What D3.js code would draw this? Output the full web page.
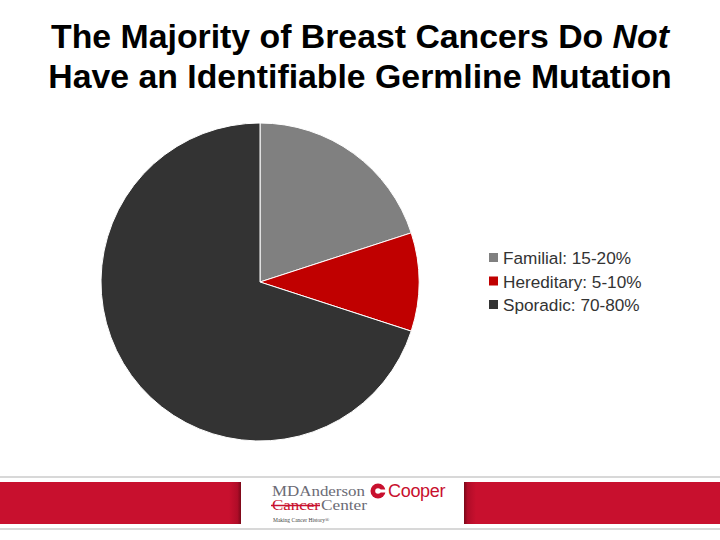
<!DOCTYPE html>
<html>
<head>
<meta charset="utf-8">
<script src="https://cdn.jsdelivr.net/npm/d3@7"></script>
<style>
  body { margin: 0; background: #fff; }
  svg { display: block; font-family: "Liberation Sans", Arial, sans-serif; }
</style>
</head>
<body>
<div id="chart"></div>
<script>
// Data
const categories = ["Familial", "Hereditary", "Sporadic"];
const values = [20, 10, 70];
const legendLabels = ["Familial: 15-20%", "Hereditary: 5-10%", "Sporadic: 70-80%"];
const colors = ["#808080", "#c00000", "#333333"];

const svgWidth = 720;
const svgHeight = 540;

const svg = d3.select("#chart")
  .append("svg")
  .attr("width", svgWidth)
  .attr("height", svgHeight);

// Title
const title = svg.append("text")
  .attr("x", 360)
  .attr("y", 48)
  .attr("text-anchor", "middle")
  .attr("font-size", 33.8)
  .attr("font-weight", "bold")
  .attr("fill", "#000");
title.append("tspan").text("The Majority of Breast Cancers Do ");
title.append("tspan").attr("font-style", "italic").text("Not");

svg.append("text")
  .attr("x", 360)
  .attr("y", 88)
  .attr("text-anchor", "middle")
  .attr("font-size", 33.8)
  .attr("font-weight", "bold")
  .attr("fill", "#000")
  .text("Have an Identifiable Germline Mutation");

// Pie
const radius = 159;
const pieGroup = svg.append("g")
  .attr("transform", "translate(260, 282)");

const pie = d3.pie().sort(null).value(d => d);
const arc = d3.arc().innerRadius(0).outerRadius(radius);

pieGroup.selectAll("path")
  .data(pie(values))
  .enter()
  .append("path")
  .attr("d", arc)
  .attr("fill", (d, i) => colors[i])
  .attr("stroke", "#fff")
  .attr("stroke-width", 1);

// Legend
const legend = svg.append("g")
  .attr("transform", "translate(489, 258)");

const items = legend.selectAll("g")
  .data(legendLabels)
  .enter()
  .append("g")
  .attr("transform", (d, i) => `translate(0, ${i * 23.5})`);

items.append("rect")
  .attr("x", 0)
  .attr("y", -5)
  .attr("width", 9)
  .attr("height", 9)
  .attr("fill", (d, i) => colors[i]);

items.append("text")
  .attr("x", 14)
  .attr("y", 6)
  .attr("font-size", 17.2)
  .attr("fill", "#333")
  .text(d => d);

// Footer band
svg.append("line")
  .attr("x1", 0).attr("x2", svgWidth)
  .attr("y1", 477).attr("y2", 477)
  .attr("stroke", "#d8d8d8").attr("stroke-width", 2);
svg.append("line")
  .attr("x1", 0).attr("x2", svgWidth)
  .attr("y1", 529).attr("y2", 529)
  .attr("stroke", "#d8d8d8").attr("stroke-width", 2);

const defs = svg.append("defs");
const gradL = defs.append("linearGradient").attr("id", "edgeL");
gradL.append("stop").attr("offset", "0%").attr("stop-color", "#c8102e");
gradL.append("stop").attr("offset", "70%").attr("stop-color", "#b00c28");
gradL.append("stop").attr("offset", "100%").attr("stop-color", "#7a0818");
const gradR = defs.append("linearGradient").attr("id", "edgeR");
gradR.append("stop").attr("offset", "0%").attr("stop-color", "#7a0818");
gradR.append("stop").attr("offset", "30%").attr("stop-color", "#b00c28");
gradR.append("stop").attr("offset", "100%").attr("stop-color", "#c8102e");

svg.append("rect")
  .attr("x", 0).attr("y", 482)
  .attr("width", 241).attr("height", 42)
  .attr("fill", "#c8102e");
svg.append("rect")
  .attr("x", 229).attr("y", 482)
  .attr("width", 12).attr("height", 42)
  .attr("fill", "url(#edgeL)");
svg.append("rect")
  .attr("x", 464).attr("y", 482)
  .attr("width", 256).attr("height", 42)
  .attr("fill", "#c8102e");
svg.append("rect")
  .attr("x", 464).attr("y", 482)
  .attr("width", 12).attr("height", 42)
  .attr("fill", "url(#edgeR)");

// Logo text
const logo = svg.append("g").attr("font-family", "'Liberation Serif', serif");
logo.append("text")
  .attr("x", 272).attr("y", 496)
  .attr("font-size", 14)
  .attr("fill", "#6b6b75")
  .attr("textLength", 93)
  .attr("lengthAdjust", "spacingAndGlyphs")
  .text("MDAnderson");
logo.append("text")
  .attr("x", 272).attr("y", 510)
  .attr("font-size", 14)
  .attr("fill", "#c8102e")
  .attr("textLength", 48)
  .attr("lengthAdjust", "spacingAndGlyphs")
  .text("Cancer");
logo.append("line")
  .attr("x1", 271).attr("x2", 320)
  .attr("y1", 505.5).attr("y2", 505.5)
  .attr("stroke", "#c8102e").attr("stroke-width", 1.3);
logo.append("text")
  .attr("x", 321).attr("y", 510)
  .attr("font-size", 14)
  .attr("fill", "#6b6b75")
  .attr("textLength", 46)
  .attr("lengthAdjust", "spacingAndGlyphs")
  .text("Center");
logo.append("text")
  .attr("x", 273).attr("y", 522)
  .attr("font-size", 5.5)
  .attr("fill", "#444")
  .text("Making Cancer History\u00AE");

// Cooper mark
const cooper = svg.append("g");
cooper.append("circle")
  .attr("cx", 378).attr("cy", 491).attr("r", 7.5)
  .attr("fill", "#c8102e");
cooper.append("circle")
  .attr("cx", 378).attr("cy", 491).attr("r", 2.8)
  .attr("fill", "#fff");
cooper.append("rect")
  .attr("x", 380).attr("y", 489.5).attr("width", 6).attr("height", 3)
  .attr("fill", "#fff");
cooper.append("text")
  .attr("x", 388).attr("y", 497)
  .attr("font-size", 18)
  .attr("fill", "#c8102e")
  .attr("letter-spacing", -0.3)
  .text("Cooper");
</script>
</body>
</html>
